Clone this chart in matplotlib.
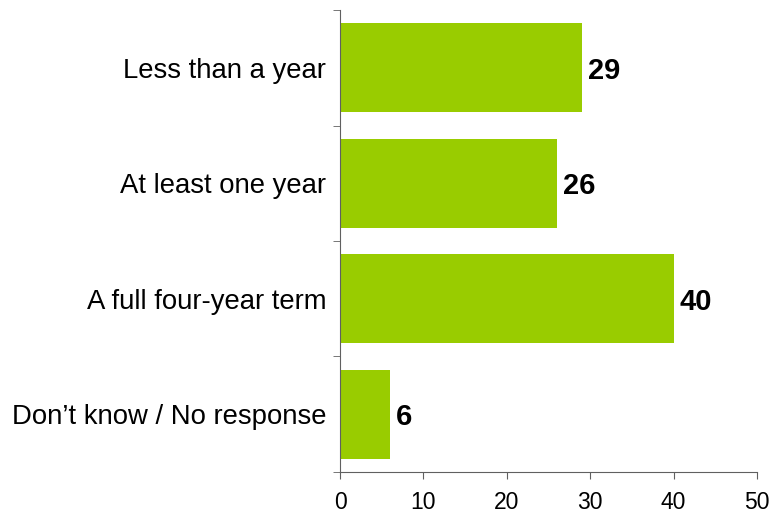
import matplotlib.pyplot as plt

plt.rcParams['font.family'] = ['Liberation Sans', 'DejaVu Sans']

categories = ['Less than a year', 'At least one year', 'A full four-year term',
              'Don\u2019t know / No response']
values = [29, 26, 40, 6]

fig = plt.figure(figsize=(7.7, 5.16), dpi=100)
ax = fig.add_axes([0.4416, 0.0853, 0.983 - 0.4416, 0.9806 - 0.0853])

pos = list(range(len(categories)))[::-1]
ax.barh(pos, values, height=0.77, color='#99CC00')

# value labels next to each bar
for y, v in zip(pos, values):
    ax.text(v + 0.7, y, str(v), va='center_baseline', ha='left',
            fontsize=21, fontweight='bold')

ax.set_xlim(0, 50)
ax.set_ylim(-0.5, len(categories) - 0.5)
ax.set_xticks(range(0, 51, 10))
ax.set_yticks(pos)
ax.set_yticklabels(categories)
ax.set_yticks([p - 0.5 for p in range(len(categories) + 1)], minor=True)

ax.tick_params(axis='y', which='major', length=0, pad=10, labelsize=19.8)
ax.tick_params(axis='y', which='minor', length=5, direction='out', color='#606060')
ax.tick_params(axis='x', length=5, direction='out', color='#606060', labelsize=16.5, pad=9)

for s in ['top', 'right']:
    ax.spines[s].set_visible(False)
for s in ['left', 'bottom']:
    ax.spines[s].set_color('#606060')

fig.savefig('out.png', dpi=100)
